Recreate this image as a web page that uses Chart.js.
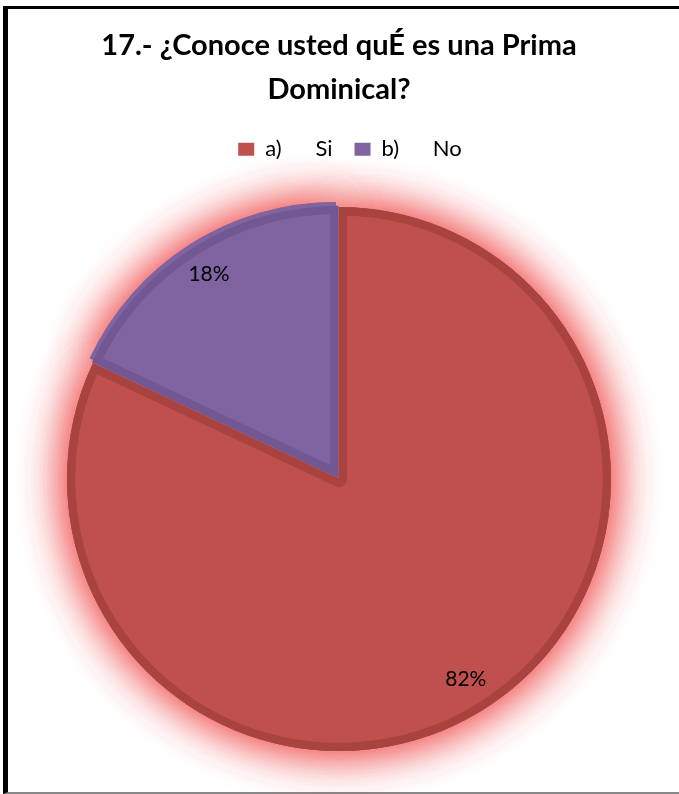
<!DOCTYPE html>
<html>
<head>
<meta charset="utf-8">
<script src="https://cdn.jsdelivr.net/npm/chart.js@4"></script>
<style>
  html, body { margin: 0; padding: 0; background: #fff; }
  #frame {
    position: absolute; left: 3px; top: 6px;
    width: 676px; height: 788px;
    border-left: 5px solid #000;
    border-top: 3px solid #000;
    border-bottom: 2px solid #888;
    box-sizing: border-box;
  }
  #wrap { position: absolute; left: 0; top: 0; width: 679px; height: 794px; }
</style>
</head>
<body>
<div id="frame"></div>
<div id="wrap"><canvas id="grafica"></canvas></div>
<script>
var titulo = ['17.- ¿Conoce usted quÉ es una Prima', 'Dominical?'];
var categorias = ['a)      Si', 'b)      No'];
var porcentajes = [82, 18];
var colores = ['#C0504D', '#8064A2'];
var bordes = ['#A9433F', '#715893'];
var separacion = [0, 6];

// brillo rojo por fuera de las porciones (se pinta antes, sin borde)
var brillo = {
    id: 'brillo',
    beforeDatasetsDraw: function(chart) {
        var ctx = chart.ctx;
        var meta = chart.getDatasetMeta(0);
        ctx.save();
        ctx.shadowColor = 'rgba(240, 80, 80, 0.9)';
        ctx.shadowBlur = 46;
        meta.data.forEach(function(arc, i) {
            var p = arc.getProps(['x', 'y', 'startAngle', 'endAngle', 'outerRadius']);
            var medio = (p.startAngle + p.endAngle) / 2;
            var cx = p.x + Math.cos(medio) * separacion[i];
            var cy = p.y + Math.sin(medio) * separacion[i];
            ctx.fillStyle = colores[i];
            ctx.beginPath();
            ctx.moveTo(cx, cy);
            ctx.arc(cx, cy, p.outerRadius, p.startAngle, p.endAngle);
            ctx.closePath();
            ctx.fill();
            ctx.fill();
        });
        ctx.restore();
    }
};

// etiquetas de porcentaje dentro de cada porcion
var etiquetas = {
    id: 'etiquetas',
    afterDatasetsDraw: function(chart) {
        var ctx = chart.ctx;
        var meta = chart.getDatasetMeta(0);
        ctx.save();
        ctx.font = '21px Lato';
        ctx.fillStyle = '#000';
        ctx.textAlign = 'center';
        ctx.textBaseline = 'middle';
        meta.data.forEach(function(arc, i) {
            var p = arc.getProps(['x', 'y', 'startAngle', 'endAngle', 'outerRadius']);
            var medio = (p.startAngle + p.endAngle) / 2;
            var r = p.outerRadius * 0.87 + separacion[i];
            ctx.fillText(porcentajes[i] + '%', p.x + Math.cos(medio) * r, p.y + Math.sin(medio) * r);
        });
        ctx.restore();
    }
};

// la leyenda va un poco a la derecha del centro
var moverLeyenda = {
    id: 'moverLeyenda',
    afterLayout: function(chart) {
        chart.legend.left += 11;
        chart.legend.right += 11;
    }
};

var leyendaBase = Chart.PieController.overrides.plugins.legend.labels.generateLabels;

var ctx = document.getElementById('grafica').getContext('2d');
var grafica = new Chart(ctx, {
    type: 'pie',
    data: {
        labels: categorias,
        datasets: [{
            data: porcentajes,
            backgroundColor: colores,
            borderColor: bordes,
            borderWidth: 8,
            borderAlign: 'inner',
            offset: separacion
        }]
    },
    options: {
        responsive: true,
        maintainAspectRatio: false,
        animation: false,
        layout: { padding: { top: 14, bottom: 6, left: 64, right: 65 } },
        plugins: {
            title: {
                display: true,
                text: titulo,
                color: '#000',
                font: { family: 'Lato', size: 29, weight: 'bold', lineHeight: 1.52 },
                padding: { top: 10, bottom: 4 }
            },
            legend: {
                position: 'top',
                labels: {
                    color: '#000',
                    font: { family: 'Lato', size: 22 },
                    boxWidth: 16,
                    boxHeight: 13,
                    padding: 22,
                    generateLabels: function(chart) {
                        return leyendaBase(chart).map(function(item) {
                            item.lineWidth = 0;
                            return item;
                        });
                    }
                }
            },
            tooltip: { enabled: false }
        }
    },
    plugins: [brillo, etiquetas, moverLeyenda]
});
</script>
</body>
</html>
